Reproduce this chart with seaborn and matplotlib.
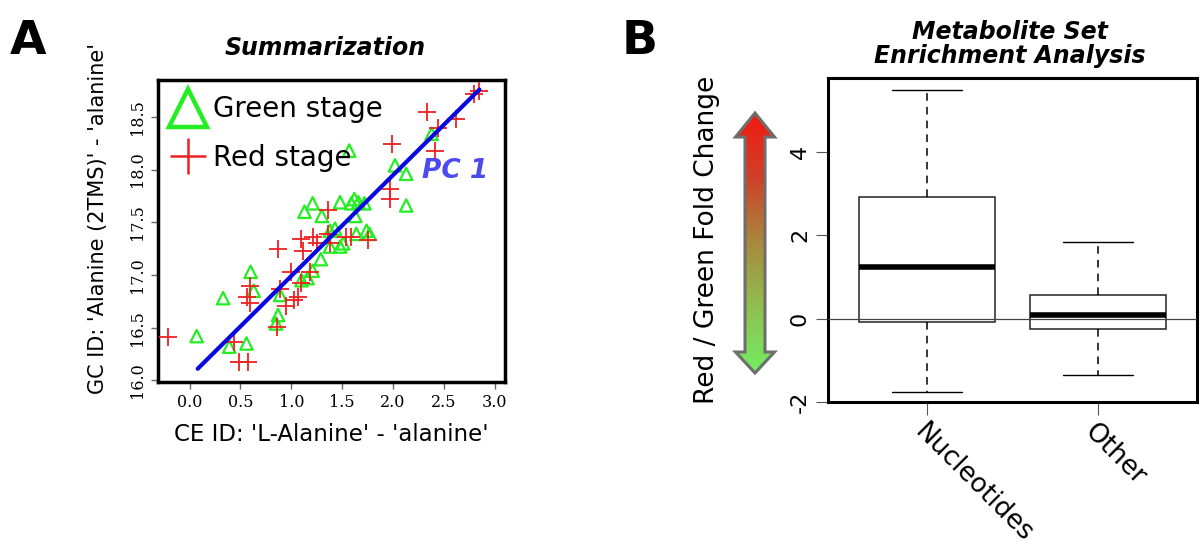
import numpy as np
import pandas as pd
import matplotlib
matplotlib.use("Agg")
import matplotlib.pyplot as plt
import seaborn as sns
from matplotlib.lines import Line2D
from matplotlib.patches import Polygon
from matplotlib.colors import LinearSegmentedColormap

# ----------------------------------------------------------
# Data
# ----------------------------------------------------------
green_x = [0.07, 0.33, 0.39, 0.56, 0.60, 0.63, 0.87, 0.85, 0.89, 1.13, 1.21, 1.30,
           1.10, 1.16, 1.21, 1.29, 1.38, 1.43, 1.38, 1.48, 1.48, 1.57, 1.59, 1.62,
           1.66, 1.72, 1.63, 1.64, 1.77, 1.74, 2.02, 2.13, 2.13, 2.38, 1.51]
green_y = [16.42, 16.78, 16.32, 16.35, 17.03, 16.85, 16.62, 16.54, 16.81, 17.60, 17.68, 17.56,
           16.95, 16.97, 17.04, 17.15, 17.42, 17.44, 17.27, 17.27, 17.69, 18.18, 17.68, 17.72,
           17.69, 17.68, 17.56, 17.39, 17.39, 17.42, 18.04, 17.96, 17.66, 18.34, 17.30]

red_x = [-0.21, 0.44, 0.49, 0.57, 0.56, 0.59, 0.59, 0.86, 0.87, 0.89, 0.95, 1.00,
         1.03, 1.07, 1.10, 1.12, 1.18, 1.10, 1.21, 1.25, 1.36, 1.36, 1.38, 1.54,
         1.59, 1.75, 1.97, 1.97, 1.99, 2.33, 2.44, 2.41, 2.62, 2.80, 2.85]
red_y = [16.41, 16.36, 16.17, 16.17, 16.79, 16.90, 16.73, 16.51, 17.25, 16.87, 16.71, 17.03,
         16.76, 16.79, 17.34, 17.23, 17.03, 16.92, 17.36, 17.30, 17.62, 17.39, 17.30, 17.36,
         17.36, 17.33, 17.82, 17.72, 18.24, 18.55, 18.39, 18.18, 18.48, 18.72, 18.75]

pc1_x = [0.08, 2.85]
pc1_y = [16.11, 18.76]

# five-number summaries of each metabolite set (min, Q1, median, Q3, max)
groups = ["Nucleotides", "Other"]
nucleotides_fc = [-1.76, -0.08, 1.23, 2.92, 5.49]
other_fc = [-1.34, -0.25, 0.08, 0.58, 1.83]

GREEN = "#22ee22"
RED = "#ee2020"
BLUE = "#0808e0"

sns.set_style("ticks")
plt.rcParams["font.family"] = ["DejaVu Sans"]
plt.rcParams.update({"text.color": "black", "axes.labelcolor": "black",
                     "xtick.labelcolor": "black", "ytick.labelcolor": "black"})

fig = plt.figure(figsize=(12, 5.48), dpi=100)

# ----------------------------------------------------------
# Panel A - scatter with PC 1
# ----------------------------------------------------------
axA = fig.add_axes([0.1317, 0.303, 0.289, 0.551])
sns.scatterplot(x=green_x, y=green_y, marker="^", s=80, facecolor="none",
                edgecolor=GREEN, linewidth=1.6, ax=axA, zorder=3)
sns.scatterplot(x=red_x, y=red_y, marker="+", s=150, color=RED,
                linewidth=1.3, ax=axA, zorder=3)
sns.lineplot(x=pc1_x, y=pc1_y, color=BLUE, lw=3, ax=axA, zorder=4)

axA.set_xlim(-0.31, 3.10)
axA.set_ylim(15.985, 18.85)
axA.set_xticks(np.arange(0, 3.01, 0.5))
axA.set_yticks(np.arange(16, 18.51, 0.5))
axA.set_xticklabels([f"{v:.1f}" for v in np.arange(0, 3.01, 0.5)],
                    family="DejaVu Serif", fontsize=11.5)
axA.set_yticklabels([f"{v:.1f}" for v in np.arange(16, 18.51, 0.5)],
                    family="DejaVu Serif", fontsize=11.5, rotation=90, va="center")
axA.tick_params(length=5, width=1, color="#666666", pad=4)
for sp in axA.spines.values():
    sp.set_linewidth(2.5)
    sp.set_color("black")

axA.set_xlabel("CE ID: 'L-Alanine' - 'alanine'", fontsize=16.5, labelpad=8)
axA.set_ylabel("GC ID: 'Alanine (2TMS)' - 'alanine'", fontsize=15)
axA.yaxis.set_label_coords(-0.145, 0.54)

axA.text(2.61, 17.99, "PC 1", color="#4a4af0", fontsize=19, fontweight="bold",
         fontstyle="italic", ha="center", va="center")

handles = [Line2D([], [], marker="^", ls="none", markersize=28, mfc="none",
                  mec=GREEN, mew=3.2),
           Line2D([], [], marker="+", ls="none", markersize=26, color=RED, mew=1.8)]
axA.legend(handles, ["Green stage", "Red stage"], loc="upper left", frameon=False,
           fontsize=20, handletextpad=0.2, borderaxespad=0.1, labelspacing=0.75,
           handlelength=1.4, borderpad=0.45, bbox_to_anchor=(-0.015, 1.0))

fig.text(325 / 1200, 1 - 48 / 548, "Summarization", fontsize=17, fontweight="bold",
         fontstyle="italic", ha="center", va="center")
fig.text(10 / 1200, 1 - 42 / 548, "A", fontsize=34, fontweight="heavy",
         ha="left", va="center")

# ----------------------------------------------------------
# Panel B - box plots of fold change
# ----------------------------------------------------------
box_df = pd.DataFrame({
    "set": [groups[0]] * len(nucleotides_fc) + [groups[1]] * len(other_fc),
    "fc": nucleotides_fc + other_fc,
})

axB = fig.add_axes([0.69, 0.2664, 0.3075, 0.5913])
sns.boxplot(data=box_df, x="set", y="fc", whis=np.inf, width=0.8, color="white",
            linecolor="black", linewidth=1.0, ax=axB, capwidths=0.41,
            medianprops=dict(linewidth=4, color="black"),
            whiskerprops=dict(linestyle=(0, (5, 4)), linewidth=1.1),
            boxprops=dict(edgecolor="#222222", linewidth=1.1))
axB.axhline(0, color="#444444", lw=0.9, zorder=10)

axB.set_xlim(-0.58, 1.58)
axB.set_ylim(-2.0, 5.78)
axB.set_yticks([-2, 0, 2, 4])
axB.set_yticklabels(["-2", "0", "2", "4"], rotation=90, va="center", fontsize=16)
axB.set_xticks([0, 1])
axB.set_xticklabels(groups, rotation=-45, ha="left", rotation_mode="anchor",
                    fontsize=19)
axB.tick_params(axis="y", length=9, width=0.8, color="#555555", pad=4)
axB.tick_params(axis="x", length=9, width=0.8, color="#555555", pad=3)
axB.set_xlabel("")
axB.set_ylabel("")
for sp in axB.spines.values():
    sp.set_linewidth(2.2)
    sp.set_color("black")

fig.text(707 / 1200, 1 - 240 / 548, "Red / Green Fold Change", fontsize=19,
         rotation=90, ha="center", va="center")
fig.text(1010 / 1200, 1 - 44 / 548, "Metabolite Set\nEnrichment Analysis",
         fontsize=17, fontweight="bold", fontstyle="italic", ha="center",
         va="center", linespacing=1.0)
fig.text(622 / 1200, 1 - 42 / 548, "B", fontsize=34, fontweight="heavy",
         ha="left", va="center")

# gradient double arrow (figure pixel coordinates)
ov = fig.add_axes([0, 0, 1, 1], zorder=-1)
ov.axis("off")
arrow_pts = [(755, 113), (774.5, 137), (765, 137), (765, 352), (774.5, 352),
             (755, 373), (735.5, 352), (745, 352), (745, 137), (735.5, 137)]
arrow = Polygon(arrow_pts, closed=True, facecolor="none", edgecolor="#6e6e6e",
                lw=2.2, zorder=3)
ov.add_patch(arrow)
cmap = LinearSegmentedColormap.from_list(
    "rg", ["#f21a10", "#d0402a", "#a88a3c", "#90c050", "#72ee62"])
grad = np.linspace(0, 1, 256).reshape(-1, 1)
im = ov.imshow(grad, cmap=cmap, extent=[735, 775, 373, 113], aspect="auto",
               zorder=2)
im.set_clip_path(arrow)
ov.set_xlim(0, 1200)
ov.set_ylim(548, 0)

plt.savefig("out.png", dpi=100)
